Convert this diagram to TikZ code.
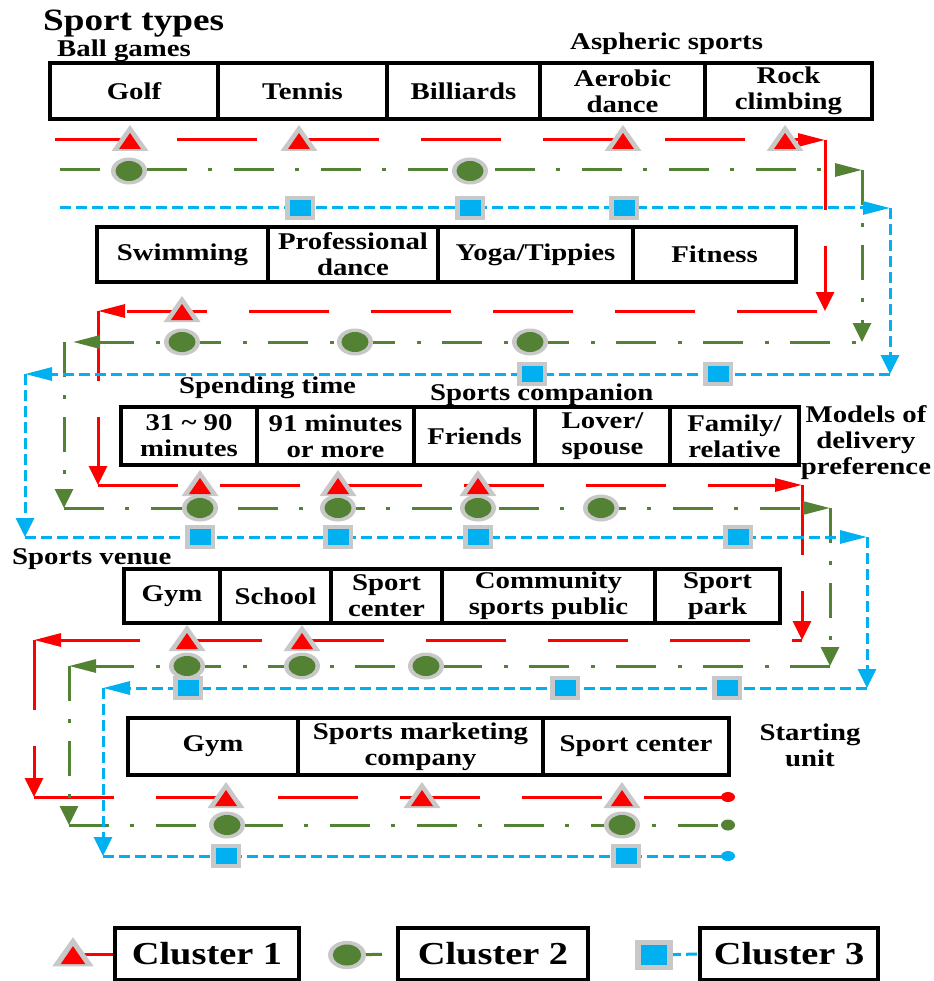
\documentclass[tikz,border=0pt]{standalone}
\usepackage{fontspec}
\newfontfamily\diag{Liberation Serif}[FakeStretch=1.2]
\usetikzlibrary{arrows.meta}
\definecolor{cred}{RGB}{255,0,0}
\definecolor{cgreen}{RGB}{84,130,53}
\definecolor{cblue}{RGB}{0,176,240}
\definecolor{mgray}{RGB}{200,200,200}

\begin{document}
\begin{tikzpicture}[x=1pt,y=-1pt,
  every node/.style={font=\diag\bfseries\fontsize{24}{26}\selectfont, inner sep=0pt},
  cell/.style={draw, line width=3.5pt, align=center},
  legbox/.style={draw, line width=3.5pt, minimum height=52pt,
    font=\diag\bfseries\fontsize{32}{34}\selectfont},
  lbl/.style={anchor=base west},
  rline/.style={cred, line width=3pt, dash pattern=on 80pt off 42pt},
  rvert/.style={cred, line width=3pt, dash pattern=on 70pt off 36pt},
  gline/.style={cgreen, line width=3pt, dash pattern=on 40pt off 21pt on 4pt off 22pt},
  gvert/.style={cgreen, line width=3pt, dash pattern=on 35pt off 18pt on 4pt off 18pt},
  bline/.style={cblue, line width=3pt, dash pattern=on 11pt off 5pt},
  harr/.style={-{Triangle[length=27pt,width=13pt]}},
  varr/.style={-{Triangle[length=19pt,width=18pt]}},
  tri/.pic={\fill[mgray] (-18.5,11) -- (18.5,11) -- (0,-15) -- cycle;
            \fill[cred] (-11,9) -- (11,9) -- (0,-7) -- cycle;},
  circ/.pic={\fill[mgray] (0,0) ellipse [x radius=18pt, y radius=13.5pt];
             \fill[cgreen] (0,0) ellipse [x radius=13.5pt, y radius=10pt];},
  sq/.pic={\fill[mgray] (-15,-12) rectangle (15,12);
           \fill[cblue] (-10.5,-8) rectangle (10.5,8);},
]
\useasboundingbox (0,0) rectangle (933,981);

% ---------- headings ----------
\node[lbl, font=\diag\bfseries\fontsize{31}{33}\selectfont] (title) at (43,31) {Sport types};
\node[lbl] (ball) at (57,57) {Ball games};
\node[lbl] (asph) at (570,50) {Aspheric sports};
\node[lbl] (spend) at (179,393) {Spending time};
\node[lbl] (comp) at (430,400) {Sports companion};
\node[align=center] (models) at (866,443) {Models of\\delivery\\preference};
\node[lbl] (venue) at (12,564) {Sports venue};
\node[align=center] (start) at (810,745) {Starting\\unit};

% ---------- sport types ----------
\node[cell, minimum width=168pt, minimum height=56pt] (golf) at (134,91) {Golf};
\node[cell, minimum width=169pt, minimum height=56pt] (tennis) at (302.5,91) {Tennis};
\node[cell, minimum width=153pt, minimum height=56pt] (bill) at (463.5,91) {Billiards};
\node[cell, minimum width=165pt, minimum height=56pt] (aero) at (622.5,91) {Aerobic\\dance};
\node[cell, minimum width=167pt, minimum height=56pt] (rock) at (788.5,91) {Rock\\climbing};

\node[cell, minimum width=171pt, minimum height=55pt] (swim) at (182.5,254.5) {Swimming};
\node[cell, minimum width=170pt, minimum height=55pt] (prof) at (353,254.5) {Professional\\dance};
\node[cell, minimum width=195pt, minimum height=55pt] (yoga) at (535.5,254.5) {Yoga/Tippies};
\node[cell, minimum width=163pt, minimum height=55pt] (fit) at (714.5,254.5) {Fitness};

% ---------- time and companion ----------
\node[cell, minimum width=136pt, minimum height=58pt] (tshort) at (189,436) {31 \textasciitilde\ 90\\minutes};
\node[cell, minimum width=157pt, minimum height=58pt] (tlong) at (335.5,436) {91 minutes\\or more};
\node[cell, minimum width=121pt, minimum height=58pt] (friend) at (474.5,436) {Friends};
\node[cell, minimum width=135pt, minimum height=58pt] (lover) at (602.5,436) {Lover/\\spouse};
\node[cell, minimum width=129pt, minimum height=58pt] (family) at (734.5,436) {Family/\\relative};

% ---------- venue ----------
\node[cell, minimum width=96pt, minimum height=54pt] (gym) at (172,596) {Gym};
\node[cell, minimum width=111pt, minimum height=54pt] (school) at (275.5,596) {School};
\node[cell, minimum width=111pt, minimum height=54pt] (spcent) at (386.5,596) {Sport\\center};
\node[cell, minimum width=213pt, minimum height=54pt] (commu) at (548.5,596) {Community\\sports public};
\node[cell, minimum width=125pt, minimum height=54pt] (park) at (717.5,596) {Sport\\park};

% ---------- starting unit ----------
\node[cell, minimum width=170pt, minimum height=57pt] (gymu) at (213,746.5) {Gym};
\node[cell, minimum width=245pt, minimum height=57pt] (mark) at (420.5,746.5) {Sports marketing\\company};
\node[cell, minimum width=186pt, minimum height=57pt] (spcu) at (636,746.5) {Sport center};

% ---------- route corners ----------
\coordinate (R0) at (55,140);  \coordinate (R1) at (825,140);
\coordinate (R2) at (825,311); \coordinate (R3) at (98,311);
\coordinate (R4) at (98,485);  \coordinate (R5) at (802,485);
\coordinate (R6) at (802,640); \coordinate (R7) at (34,640);
\coordinate (R8) at (34,797);  \coordinate (R9) at (728,797);

\coordinate (G0) at (60,170);  \coordinate (G1) at (862,170);
\coordinate (G2) at (862,342); \coordinate (G3a) at (73,342); \coordinate (G3) at (64,342);
\coordinate (G4) at (64,508);  \coordinate (G5) at (830,508);
\coordinate (G6) at (830,666); \coordinate (G7) at (69,666);
\coordinate (G8) at (69,825);  \coordinate (G9) at (728,825);

\coordinate (B0) at (60,208);  \coordinate (B1) at (890,208);
\coordinate (B2) at (890,374); \coordinate (B3) at (25,374);
\coordinate (B4) at (25,537);  \coordinate (B5) at (867,537);
\coordinate (B6) at (867,688); \coordinate (B7) at (103,688);
\coordinate (B8) at (103,856); \coordinate (B9) at (728,856);

% cluster 1 route
\draw[rline,harr] (R0) -- (R1);
\draw[rvert,varr] (R1) -- (R2);
\draw[rline,harr,dash phase=114pt] (R2) -- (R3);
\draw[rvert,varr] (R3) -- (R4);
\draw[rline,harr] (R4) -- (R5);
\draw[rvert,varr] (R5) -- (R6);
\draw[rline,harr,dash phase=70pt] (R6) -- (R7);
\draw[rvert,varr] (R7) -- (R8);
\draw[rline] (R8) -- (R9);
\fill[cred] (R9) ellipse [x radius=7pt, y radius=5pt];

% cluster 2 route
\draw[gline,harr] (G0) -- (G1);
\draw[gvert,varr] (G1) -- (G2);
\draw[gline,harr,dash phase=55pt] (G2) -- (G3a);
\draw[gvert,varr] (G3) -- (G4);
\draw[gline,harr] (G4) -- (G5);
\draw[gvert,varr] (G5) -- (G6);
\draw[gline,harr] (G6) -- (G7);
\draw[gvert,varr] (G7) -- (G8);
\draw[gline] (G8) -- (G9);
\fill[cgreen] (G9) ellipse [x radius=7pt, y radius=5.5pt];

% cluster 3 route
\draw[bline,harr] (B0) -- (B1);
\draw[bline,varr] (B1) -- (B2);
\draw[bline,harr] (B2) -- (B3);
\draw[bline,varr] (B3) -- (B4);
\draw[bline,harr] (B4) -- (B5);
\draw[bline,varr] (B5) -- (B6);
\draw[bline,harr] (B6) -- (B7);
\draw[bline,varr] (B7) -- (B8);
\draw[bline] (B8) -- (B9);
\fill[cblue] (B9) ellipse [x radius=7pt, y radius=5pt];

% ---------- cluster markers ----------
\foreach \px in {130,299,623,785} \pic at (\px,140) {tri};
\foreach \px in {129,470} \pic at (\px,171) {circ};
\foreach \px in {300,470,624} \pic at (\px,208) {sq};

\pic at (182,311) {tri};
\foreach \px in {182,355,530} \pic at (\px,342) {circ};
\foreach \px in {532,718} \pic at (\px,374) {sq};

\foreach \px in {200,338,478} \pic at (\px,485) {tri};
\foreach \px in {200,338,478,601} \pic at (\px,508) {circ};
\foreach \px in {200,338,478,738} \pic at (\px,537) {sq};

\foreach \px in {187,302} \pic at (\px,640) {tri};
\foreach \px in {187,302,426} \pic at (\px,666) {circ};
\foreach \px in {188,565,727} \pic at (\px,688) {sq};

\foreach \px in {226,422,622} \pic at (\px,797) {tri};
\foreach \px in {227,622} \pic at (\px,825) {circ};
\foreach \px in {226,626} \pic at (\px,856) {sq};

% ---------- legend ----------
\node[legbox, minimum width=184pt] (k1) at (207,954) {Cluster 1};
\node[legbox, minimum width=190pt] (k2) at (493,954) {Cluster 2};
\node[legbox, minimum width=178pt] (k3) at (789,954) {Cluster 3};
\coordinate (m1) at (73,954);
\coordinate (m2) at (347,955);
\coordinate (m3) at (654,955);
\draw[cred, line width=3pt] (m1) -- (k1.west);
\draw[cgreen, line width=3pt, dash pattern=on 35pt off 17pt on 4pt off 20pt] (m2) -- (k2.west);
\draw[bline] (m3) -- (k3.west);
\pic[scale=1.12] at (m1) {tri};
\pic[scale=1.05] at (m2) {circ};
\pic[scale=1.27] at (m3) {sq};
\end{tikzpicture}
\end{document}
